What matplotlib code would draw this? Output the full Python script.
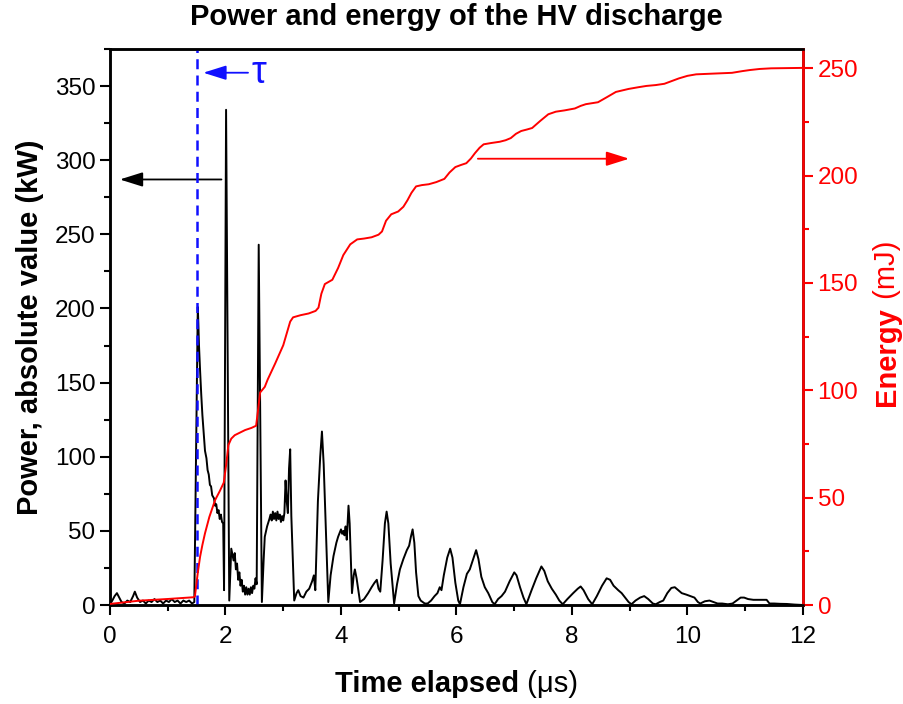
import matplotlib
matplotlib.use("Agg")
import matplotlib.pyplot as plt
from matplotlib.ticker import MultipleLocator

plt.rcParams['font.family'] = ['Liberation Sans', 'DejaVu Sans']

# ---- data: power (kW) vs time (us) ----
t_power = [0.00, 0.04, 0.08, 0.12, 0.16, 0.20, 0.25, 0.30, 0.35, 0.40, 0.43, 0.47, 0.52, 0.57,
           0.62, 0.67, 0.72, 0.77, 0.82, 0.87, 0.92, 0.97, 1.02, 1.07, 1.12, 1.17, 1.22, 1.27,
           1.32, 1.37, 1.42, 1.46, 1.52, 1.53, 1.54, 1.56, 1.58, 1.60, 1.62, 1.645, 1.67, 1.69,
           1.71, 1.73, 1.75, 1.77, 1.80, 1.82, 1.84, 1.86, 1.88, 1.90, 1.92, 1.94, 1.96, 1.975,
           2.01, 2.065, 2.10, 2.12, 2.14, 2.16, 2.18, 2.20, 2.22, 2.24, 2.26, 2.28, 2.30, 2.32,
           2.34, 2.36, 2.38, 2.40, 2.42, 2.44, 2.46, 2.48, 2.50, 2.52, 2.54, 2.575, 2.63, 2.66,
           2.68, 2.72, 2.76, 2.78, 2.80, 2.82, 2.84, 2.86, 2.88, 2.90, 2.92, 2.94, 2.96, 2.98,
           3.00, 3.02, 3.04, 3.06, 3.08, 3.10, 3.12, 3.14, 3.19, 3.23, 3.26, 3.30, 3.35, 3.40,
           3.45, 3.50, 3.53, 3.555, 3.60, 3.64, 3.67, 3.70, 3.78, 3.82, 3.87, 3.92, 3.95, 3.97,
           4.00, 4.02, 4.04, 4.06, 4.08, 4.10, 4.13, 4.15, 4.19, 4.22, 4.24, 4.27, 4.33, 4.40,
           4.47, 4.53, 4.58, 4.62, 4.65, 4.68, 4.72, 4.76, 4.79, 4.82, 4.86, 4.92, 4.97, 5.02,
           5.08, 5.14, 5.18, 5.21, 5.24, 5.27, 5.30, 5.34, 5.38, 5.45, 5.50, 5.56, 5.62, 5.67,
           5.71, 5.74, 5.78, 5.84, 5.89, 5.93, 5.98, 6.03, 6.06, 6.12, 6.18, 6.23, 6.28, 6.34,
           6.38, 6.43, 6.49, 6.55, 6.62, 6.66, 6.72, 6.78, 6.84, 6.92, 7.00, 7.04, 7.10, 7.16,
           7.21, 7.30, 7.38, 7.47, 7.52, 7.58, 7.65, 7.72, 7.78, 7.84, 7.92, 8.02, 8.10, 8.15,
           8.20, 8.28, 8.35, 8.43, 8.52, 8.60, 8.66, 8.72, 8.80, 8.86, 8.92, 8.98, 9.03, 9.10,
           9.18, 9.25, 9.32, 9.40, 9.45, 9.52, 9.58, 9.65, 9.72, 9.78, 9.84, 9.90, 9.98, 10.05,
           10.12, 10.18, 10.22, 10.30, 10.38, 10.45, 10.52, 10.60, 10.70, 10.78, 10.85, 10.92,
           10.98, 11.05, 11.14, 11.25, 11.37, 11.42, 11.50, 11.60, 11.72, 11.85, 12.00]
p_power = [0.5, 3, 6, 8, 5, 2, 1, 3, 2, 6, 9, 5, 2, 3,
           1, 3, 2, 4, 2, 3, 1, 3, 2, 4, 2, 3, 1, 3,
           2, 3, 1, 2, 201, 190, 176, 158, 142, 128, 117, 104, 99, 91,
           88, 81, 80, 74, 72, 67, 68, 62, 64, 58, 61, 56, 55, 10,
           334, 3, 38, 34, 30, 35, 24, 28, 17, 22, 13, 17, 9, 13,
           7, 12, 7, 11, 7, 12, 8, 13, 11, 18, 14, 243, 2, 30,
           46, 53, 58, 61, 57, 63, 58, 62, 57, 63, 58, 61, 56, 60,
           57, 62, 84, 70, 62, 92, 105, 60, 3, 8, 10, 6, 5, 9,
           11, 16, 20, 10, 70, 100, 117, 95, 2, 20, 33, 42, 46, 48,
           51, 48, 50, 47, 53, 44, 67, 55, 8, 20, 24, 18, 2, 4,
           8, 12, 15, 17, 11, 9, 30, 55, 63, 55, 28, 1, 14, 24,
           31, 37, 40, 46, 51, 42, 22, 6, 3, 1, 1, 3, 6, 8,
           12, 10, 20, 32, 38, 32, 15, 3, 0.5, 12, 21, 24, 30, 37,
           31, 19, 12, 8, 2, 0.5, 4, 6, 9, 16, 22, 20, 12, 5,
           0.5, 10, 18, 26, 23, 16, 11, 7, 3, 0.5, 4, 8, 11, 12.5,
           10, 4, 0.5, 6, 13, 18, 17, 13, 10, 8, 5, 2, 0.5, 3,
           5, 6, 4, 1, 0.5, 2, 3, 8, 11.5, 12, 10, 8, 7, 6,
           5, 2, 1, 2.5, 3, 2, 1, 1, 0.5, 1, 3, 5,
           5, 4, 3.5, 3.5, 3.5, 1, 1, 0.8, 0.7, 0.3, 0]

# ---- data: cumulative energy (mJ) vs time (us) ----
t_energy = [0.0, 0.5, 1.0, 1.44, 1.47, 1.52, 1.56, 1.60, 1.645, 1.72, 1.82, 1.90, 1.97, 2.01,
            2.05, 2.10, 2.16, 2.25, 2.34, 2.45, 2.53, 2.56, 2.60, 2.68, 2.73, 2.86, 3.00, 3.06,
            3.12, 3.17, 3.30, 3.44, 3.56, 3.61, 3.66, 3.72, 3.85, 3.95, 4.04, 4.16, 4.28, 4.40,
            4.53, 4.65, 4.71, 4.78, 4.87, 4.99, 5.08, 5.15, 5.22, 5.30, 5.40, 5.52, 5.65, 5.79,
            5.88, 5.98, 6.08, 6.17, 6.25, 6.32, 6.40, 6.47, 6.60, 6.75, 6.85, 6.94, 7.03, 7.12,
            7.22, 7.31, 7.45, 7.59, 7.72, 7.87, 8.05, 8.15, 8.24, 8.45, 8.60, 8.76, 8.98, 9.15,
            9.29, 9.45, 9.60, 9.75, 9.85, 10.00, 10.15, 10.50, 10.77, 10.95, 11.08, 11.25, 11.45,
            12.00]
e_energy = [0.5, 2, 2.8, 3.6, 4, 15, 22.5, 28, 33.4, 41, 48.9, 53, 57, 65,
            74.5, 77.5, 79.1, 80.3, 81.5, 82.5, 83.5, 90, 99, 101.6, 105, 112.5, 121, 126.5,
            132, 134, 135, 135.8, 137, 138.5, 145, 149.5, 151.5, 157, 163, 168, 170.3, 170.7,
            171.3, 172.5, 174, 179, 182, 183.3, 185.5, 188.5, 192, 195, 195.6, 196, 197, 198.5,
            201.5, 204, 205, 205.8, 208, 210.5, 213, 214.6, 215.2, 215.8, 216.5, 217.5, 219.5, 220.8,
            221.5, 222.2, 225.5, 228.6, 229.8, 230.4, 231.3, 232.5, 233.3, 234.2, 236.5, 239, 240.4, 241.2,
            241.8, 242.2, 242.8, 244.3, 245.3, 246.5, 247.2, 247.6, 247.9, 248.7, 249.2, 249.7, 250,
            250.2]

tau_time = 1.5
x_ticks = [0, 2, 4, 6, 8, 10, 12]
power_ticks = [0, 50, 100, 150, 200, 250, 300, 350]
energy_ticks = [0, 50, 100, 150, 200, 250]

RED = '#ff0000'
BLUE = '#1010ff'

fig = plt.figure(figsize=(9.04, 7.04), dpi=100)
ax = fig.add_axes([110/904, 99/704, 693/904, 556/704])
ax2 = ax.twinx()

ax.plot(t_power, p_power, color='black', lw=1.4, zorder=3)
ax.axvline(tau_time, color=BLUE, lw=1.8, ls=(0, (4, 2.5)), zorder=4)
ax2.plot(t_energy, e_energy, color=RED, lw=1.4, zorder=3)

ax.set_xlim(0, 12)
ax.set_ylim(0, 375)
ax2.set_ylim(0, 259)
ax.set_xticks(x_ticks)
ax.set_yticks(power_ticks)
ax2.set_yticks(energy_ticks)
ax.xaxis.set_minor_locator(MultipleLocator(1))
ax.yaxis.set_minor_locator(MultipleLocator(25))
ax2.yaxis.set_minor_locator(MultipleLocator(25))

for a in (ax, ax2):
    for s in a.spines.values():
        s.set_linewidth(1.8)
ax2.spines['right'].set_color(RED)
ax.tick_params(axis='both', which='major', direction='out', length=7, width=1.5,
               labelsize=17.5, colors='black')
ax.tick_params(axis='both', which='minor', direction='out', length=4, width=1.5)
ax.tick_params(axis='x', pad=8)
ax2.tick_params(axis='y', which='major', direction='out', length=7, width=1.5,
                labelsize=17.5, colors=RED)
ax2.tick_params(axis='y', which='minor', direction='out', length=4, width=1.5, colors=RED)

# arrows and tau annotation
ax.annotate('', xy=(0.17, 287), xytext=(1.93, 287),
            arrowprops=dict(arrowstyle='-|>,head_length=0.7,head_width=0.22',
                            color='black', lw=1.3, mutation_scale=20, shrinkA=0, shrinkB=0))
ax.annotate('', xy=(8.99, 301), xytext=(6.37, 301),
            arrowprops=dict(arrowstyle='-|>,head_length=0.7,head_width=0.22',
                            color=RED, lw=1.3, mutation_scale=20, shrinkA=0, shrinkB=0))
ax.annotate('', xy=(1.615, 359), xytext=(2.39, 359),
            arrowprops=dict(arrowstyle='-|>,head_length=0.7,head_width=0.22',
                            color=BLUE, lw=1.3, mutation_scale=20, shrinkA=0, shrinkB=0))
ax.text(2.58, 359, 'τ', color=BLUE, fontsize=27, ha='center', va='center')

fig.text(0.505, 1 - 17/704, 'Power and energy of the HV discharge',
         fontsize=21, fontweight='bold', ha='center', va='center')

ax.set_ylabel('Power, absolute value (kW)', fontsize=21, fontweight='bold', labelpad=8)

fig.canvas.draw()
r = fig.canvas.get_renderer()

# x label: bold part + regular unit
t1 = fig.text(0, 1 - 684/704, 'Time elapsed', fontsize=21, fontweight='bold', ha='left', va='center')
t2 = fig.text(0, 1 - 684/704, ' (μs)', fontsize=21, ha='left', va='center')
w1 = t1.get_window_extent(r).width
w2 = t2.get_window_extent(r).width
x0 = 456.5 - (w1 + w2) / 2
t1.set_x(x0 / 904)
t2.set_x((x0 + w1) / 904)

# right label: bold 'Energy' + regular unit, rotated
e1 = fig.text(887/904, 0, 'Energy', fontsize=21, fontweight='bold', color=RED,
              rotation=90, ha='center', va='bottom')
e2 = fig.text(887/904, 0, ' (mJ)', fontsize=21, color=RED, rotation=90, ha='center', va='bottom')
h1 = e1.get_window_extent(r).height
h2 = e2.get_window_extent(r).height
y0 = (704 - 323) - (h1 + h2) / 2
e1.set_y(y0 / 704)
e2.set_y((y0 + h1) / 704)

fig.savefig('out.png', dpi=100)
